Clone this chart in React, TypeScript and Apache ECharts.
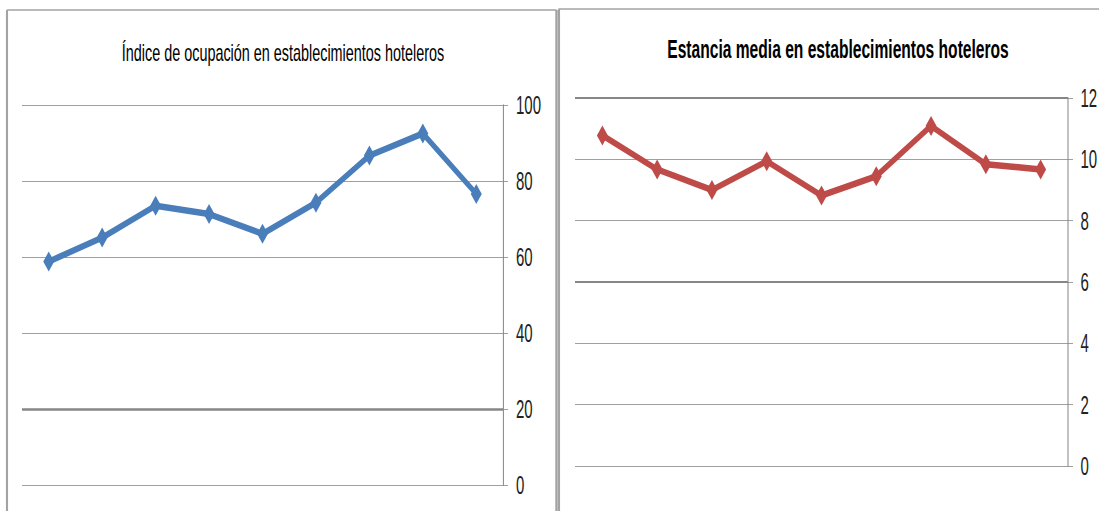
import React, { useEffect, useRef } from "react";
import * as echarts from "echarts";

// Data
const periodos = ["1", "2", "3", "4", "5", "6", "7", "8", "9"];
const ocupacion = [58.8, 65.1, 73.5, 71.3, 66.1, 74.3, 86.7, 92.5, 76.6];
const estancia = [10.78, 9.67, 9.0, 9.94, 8.82, 9.45, 11.09, 9.84, 9.67];
const tituloOcupacion = "Índice de ocupación en establecimientos hoteleros";
const tituloEstancia = "Estancia media en establecimientos hoteleros";
const ejeOcupacion = { min: 0, max: 100, interval: 20 };
const ejeEstancia = { min: 0, max: 12, interval: 2 };

// horizontal compression of the whole picture (the reference is squeezed horizontally)
const S = 0.6;
const W = Math.round(1099 / S);
const H = 511;
const X = (px: number) => px / S;

const GRID = "#868686";
const FONT = "'Liberation Sans', Arial, sans-serif";

export default function App() {
  const ref = useRef<HTMLDivElement>(null);
  useEffect(() => {
    if (!ref.current) return;
    const chart = echarts.init(ref.current, undefined, { renderer: "svg" });
    const yAxisCommon = (margin: number) => ({
      type: "value" as const,
      position: "right" as const,
      axisLine: { show: true, lineStyle: { color: GRID, width: 1.7 } },
      axisTick: { show: true, length: X(5), lineStyle: { color: GRID, width: 1 } },
      axisLabel: { color: "#222", fontSize: 25, fontFamily: FONT, margin: X(margin) },
      splitLine: { show: true, lineStyle: { color: GRID, width: 1 } },
    });
    const xAxisCommon = {
      type: "category" as const,
      data: periodos,
      boundaryGap: true,
      axisLine: { show: false },
      axisTick: { show: false },
      axisLabel: { show: false },
      splitLine: { show: false },
    };
    const border = "#a3a3a3";
    chart.setOption({
      animation: false,
      backgroundColor: "#ffffff",
      title: [
        {
          text: tituloOcupacion,
          left: X(280),
          top: 35,
          textAlign: "center",
          textStyle: { fontFamily: FONT, fontWeight: "normal", fontSize: 24, color: "#000" },
        },
        {
          text: tituloEstancia,
          left: X(835),
          top: 31,
          textAlign: "center",
          textStyle: { fontFamily: FONT, fontWeight: "bold", fontSize: 26, color: "#000" },
        },
      ],
      grid: [
        { left: X(22), top: 105, width: X(481), height: 380 },
        { left: X(575), top: 98, width: X(493), height: 368 },
      ],
      xAxis: [
        { ...xAxisCommon, gridIndex: 0 },
        { ...xAxisCommon, gridIndex: 1 },
      ],
      yAxis: [
        { ...yAxisCommon(13), gridIndex: 0, ...ejeOcupacion },
        { ...yAxisCommon(12.5), gridIndex: 1, ...ejeEstancia },
      ],
      series: [
        {
          type: "line",
          xAxisIndex: 0,
          yAxisIndex: 0,
          data: ocupacion,
          lineStyle: { color: "#4a7ebb", width: 6.5 },
          itemStyle: { color: "#4a7ebb" },
          symbol: "diamond",
          symbolSize: [X(11), 20],
          markLine: {
            silent: true,
            symbol: "none",
            label: { show: false },
            lineStyle: { color: GRID, width: 2.5, type: "solid" },
            data: [{ yAxis: 20 }],
          },
        },
        {
          type: "line",
          xAxisIndex: 1,
          yAxisIndex: 1,
          data: estancia,
          lineStyle: { color: "#be4b48", width: 6.5 },
          itemStyle: { color: "#be4b48" },
          symbol: "diamond",
          symbolSize: [X(11), 20],
          markLine: {
            silent: true,
            symbol: "none",
            label: { show: false },
            lineStyle: { color: GRID, width: 2, type: "solid" },
            data: [{ yAxis: 12 }, { yAxis: 6 }],
          },
        },
      ],
      graphic: [
        // left panel border
        { type: "line", shape: { x1: X(7), y1: 10, x2: X(556.5), y2: 10 }, style: { stroke: border, lineWidth: 1.5 } },
        { type: "line", shape: { x1: X(7), y1: 10, x2: X(7), y2: 520 }, style: { stroke: border, lineWidth: 3.5 } },
        { type: "line", shape: { x1: X(556.5), y1: 10, x2: X(556.5), y2: 520 }, style: { stroke: border, lineWidth: 4 } },
        // right panel border
        { type: "line", shape: { x1: X(558.5), y1: 9, x2: X(1110), y2: 9 }, style: { stroke: border, lineWidth: 1.5 } },
        { type: "line", shape: { x1: X(559), y1: 9, x2: X(559), y2: 520 }, style: { stroke: border, lineWidth: 3.5 } },
      ],
    });
    return () => chart.dispose();
  }, []);
  return (
    <div
      style={{
        position: "absolute",
        left: 0,
        top: 0,
        width: 1099,
        height: H,
        overflow: "hidden",
        background: "#fff",
      }}
    >
      <div
        ref={ref}
        style={{
          width: W,
          height: H,
          transform: `scaleX(${S})`,
          transformOrigin: "0 0",
        }}
      />
    </div>
  );
}
